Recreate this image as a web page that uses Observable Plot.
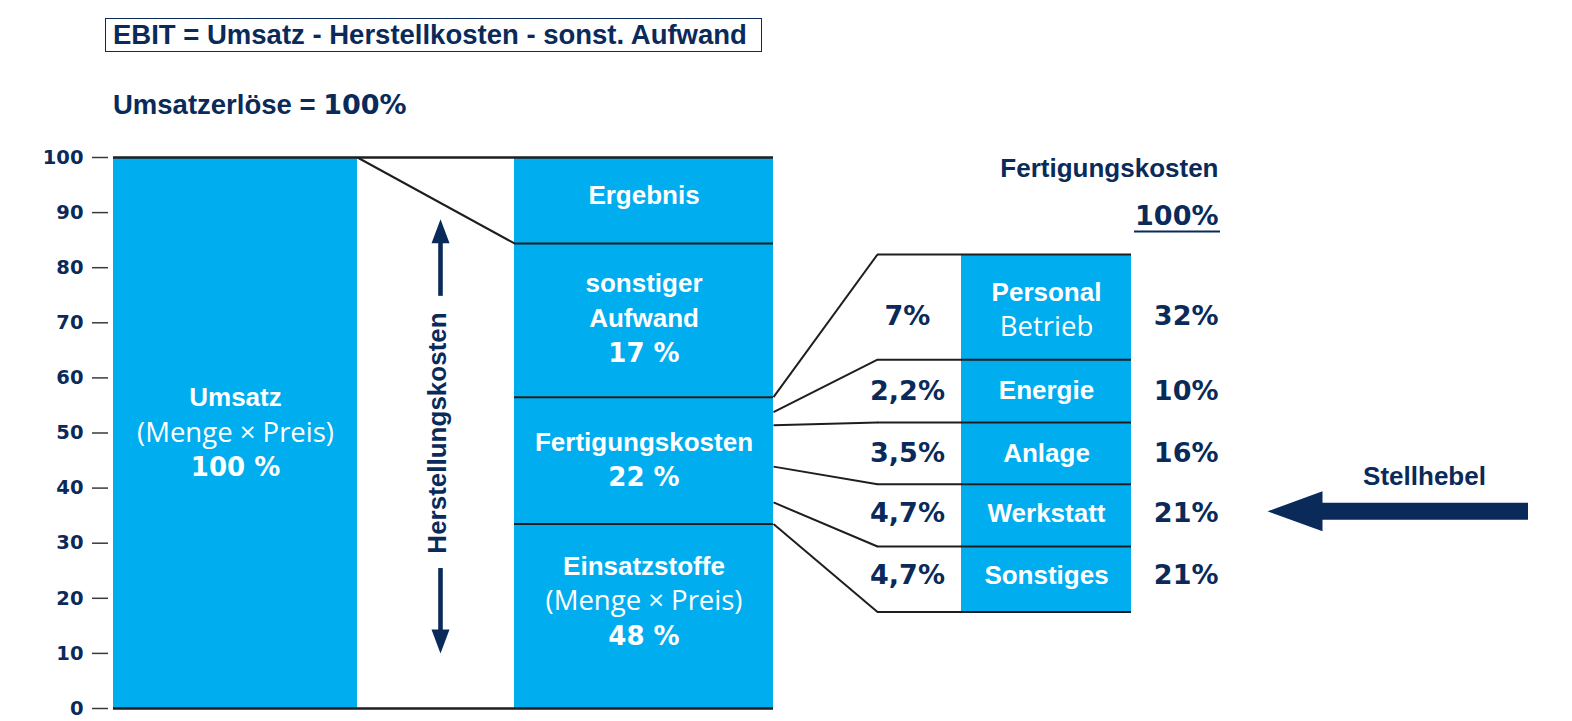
<!DOCTYPE html>
<html>
<head>
<meta charset="utf-8">
<script src="https://cdn.jsdelivr.net/npm/d3@7"></script>
<script src="https://cdn.jsdelivr.net/npm/@observablehq/plot@0.6"></script>
<style>
  html, body { margin: 0; padding: 0; background: #ffffff; }
  #header { position: relative; width: 1572px; height: 140px; }
  #title {
    position: absolute; left: 105px; top: 18px; width: 657px; height: 34px;
    box-sizing: border-box; border: 1.2px solid #0a2a5a;
  }
  #title span {
    position: absolute; left: 7px; top: 2px; white-space: nowrap;
    font: 700 27.5px/1 "Liberation Sans", Arial, sans-serif; color: #0a2a5a;
  }
  #subtitle {
    position: absolute; left: 113px; top: 91px; white-space: nowrap;
    font: 700 27.5px/1 "Liberation Sans", Arial, sans-serif; color: #0a2a5a;
  }
  #subtitle .pct { font-family: "DejaVu Sans"; font-size: 27px; }
  #chart svg { display: block; }
</style>
</head>
<body>
<div id="header">
  <div id="title"><span>EBIT = Umsatz - Herstellkosten - sonst. Aufwand</span></div>
  <div id="subtitle">Umsatzerlöse = <span class="pct">100%</span></div>
</div>
<div id="chart"></div>
<script>
// ---------------- data ----------------
const yTicks = [0, 10, 20, 30, 40, 50, 60, 70, 80, 90, 100];

const umsatzValue = 100;
const umsatzLabel = ["Umsatz", "(Menge × Preis)", "100 %"];

// Herstellungskosten column, bottom to top
const herstSegments = ["Einsatzstoffe", "Fertigungskosten", "sonstiger Aufwand", "Ergebnis"];
const herstBounds = [0, 33.5, 56.5, 84.4, 100];
const herstLabels = [
  ["Einsatzstoffe", "(Menge × Preis)", "48 %"],
  ["Fertigungskosten", "22 %"],
  ["sonstiger", "Aufwand", "17 %"],
  ["Ergebnis"]
];
const herstTitle = "Herstellungskosten";

// Fertigungskosten breakdown, top to bottom
const fertSegments = ["Personal", "Energie", "Anlage", "Werkstatt", "Sonstiges"];
const fertBounds = [82.4, 63.3, 51.9, 40.7, 29.4, 17.5];
const fertLabels = [["Personal", "Betrieb"], ["Energie"], ["Anlage"], ["Werkstatt"], ["Sonstiges"]];
const fertShareTotal = ["7%", "2,2%", "3,5%", "4,7%", "4,7%"];
const fertShareOwn = ["32%", "10%", "16%", "21%", "21%"];
const fertHeading = ["Fertigungskosten", "100%"];
// where each connector leaves the Fertigungskosten segment
const connectorStarts = [56.5, 53.8, 51.4, 43.9, 37.4, 33.5];

const leverLabel = "Stellhebel";
const leverRow = "Werkstatt";

// ---------------- layout & style (not data) ----------------
const L = {
  umsatz: {x1: 113, x2: 357},
  herst: {x1: 514, x2: 773},
  connectorX: 877,
  fert: {x1: 961, x2: 1131},
  shareX: 907,
  ownShareX: 1218,
  herstArrow: {x: 440, upFrom: 74.8, upShaft: 86.5, upTip: 88.8, downFrom: 25.4, downShaft: 12.3, downTip: 10.0},
  lever: {tipX: 1267, shaftFrom: 1310, tailX: 1528, textX: 1424, dy: -4, textDy: -39},
  lineGap: 35,
  herstExtraDy: [-15, 0, -2, -5],
  fertLabelDy: [3, 0, 0, -2, -4],
  fertPctDy: [9, 0, 0, -2, -4]
};
const NAVY = "#0a2a5a";
const CYAN = "#00adef";
const LINE = "#1e1e1e";
const fonts = {
  bold: {fontFamily: "Liberation Sans", fontWeight: 700, fontSize: 26},
  light: {fontFamily: "Open Sans", fontWeight: 400, fontSize: 27.5},
  pct: {fontFamily: "DejaVu Sans", fontWeight: 700, fontSize: 26},
  pctL: {fontFamily: "DejaVu Sans", fontWeight: 700, fontSize: 27}
};
const lightLines = new Set(["(Menge × Preis)", "Betrieb"]);
const kindOf = (t) => /%/.test(t) ? "pct" : lightLines.has(t) ? "light" : "bold";

// ---------------- derived tables ----------------
const herstData = herstSegments.map((name, i) => ({name, y1: herstBounds[i], y2: herstBounds[i + 1]}));
const fertData = fertSegments.map((name, i) => ({name, y1: fertBounds[i + 1], y2: fertBounds[i]}));
const connectors = connectorStarts.map((s, i) => ({s, e: fertBounds[i]}));

const rows = [];
function addLabel(lines, x, mid, extra, fill, anchor = "middle", kindOverride) {
  lines.forEach((t, i) => rows.push({
    x, y: mid, t, fill, anchor,
    dy: extra + (i - (lines.length - 1) / 2) * L.lineGap,
    kind: kindOverride || kindOf(t)
  }));
}
addLabel(umsatzLabel, (L.umsatz.x1 + L.umsatz.x2) / 2, umsatzValue / 2, 0, "white");
herstData.forEach((d, i) => addLabel(herstLabels[i], (L.herst.x1 + L.herst.x2) / 2, (d.y1 + d.y2) / 2, L.herstExtraDy[i], "white"));
fertData.forEach((d, i) => {
  const mid = (d.y1 + d.y2) / 2;
  addLabel(fertLabels[i], (L.fert.x1 + L.fert.x2) / 2, mid, L.fertLabelDy[i], "white");
  addLabel([fertShareTotal[i]], L.shareX, mid, L.fertPctDy[i], NAVY, "middle", "pctL");
  addLabel([fertShareOwn[i]], L.ownShareX, mid, L.fertPctDy[i], NAVY, "end", "pctL");
});
// heading over the breakdown
rows.push({x: L.ownShareX, y: 100, t: fertHeading[0], fill: NAVY, anchor: "end", dy: 11, kind: "bold"});
rows.push({x: L.ownShareX, y: 100, t: fertHeading[1], fill: NAVY, anchor: "end", dy: 59, kind: "pctL"});

const leverIdx = fertSegments.indexOf(leverRow);
const leverY = (fertData[leverIdx].y1 + fertData[leverIdx].y2) / 2;
rows.push({x: L.lever.textX, y: leverY, t: leverLabel, fill: NAVY, anchor: "middle", dy: L.lever.textDy, kind: "bold"});

const triangleHead = (halfWidth) => ({
  draw(ctx, l) {
    ctx.moveTo(0, -l);
    ctx.lineTo(halfWidth, 0);
    ctx.lineTo(-halfWidth, 0);
    ctx.closePath();
  }
});

const lineStyle = {stroke: LINE, strokeWidth: 2};

const chart = Plot.plot({
  width: 1572,
  height: 581,
  marginTop: 17,
  marginBottom: 13,
  marginLeft: 108,
  marginRight: 0,
  x: {type: "linear", domain: [108, 1572], axis: null},
  y: {domain: [0, 100], axis: null},
  style: {fontFamily: "Liberation Sans", background: "white", overflow: "visible"},
  marks: [
    // bars
    Plot.rect([umsatzValue], {x1: L.umsatz.x1, x2: L.umsatz.x2, y1: 0, y2: d => d, fill: CYAN}),
    Plot.rect(herstData, {x1: L.herst.x1, x2: L.herst.x2, y1: "y1", y2: "y2", fill: CYAN}),
    Plot.rect(fertData, {x1: L.fert.x1, x2: L.fert.x2, y1: "y1", y2: "y2", fill: CYAN}),
    // y axis
    Plot.axisY({
      ticks: yTicks, tickSize: 16, tickPadding: 9, anchor: "left",
      stroke: "#3a3a3a", strokeWidth: 1.5, fill: NAVY,
      fontFamily: "DejaVu Sans", fontWeight: 700, fontSize: 19.5,
      tickFormat: d => String(d), label: null
    }),
    // outline lines
    Plot.ruleY([0, umsatzValue], {x1: L.umsatz.x1, x2: L.herst.x2, ...lineStyle, strokeWidth: 2.4}),
    Plot.ruleY(herstBounds.slice(1, -1), {x1: L.herst.x1, x2: L.herst.x2, ...lineStyle}),
    Plot.link([{a: umsatzValue, b: herstBounds[3]}], {x1: L.umsatz.x2, y1: "a", x2: L.herst.x1, y2: "b", ...lineStyle}),
    Plot.link(connectors, {x1: L.herst.x2, y1: "s", x2: L.connectorX, y2: "e", ...lineStyle}),
    Plot.ruleY(fertBounds, {x1: L.connectorX, x2: L.fert.x2, ...lineStyle}),
    // underline under 100 %
    Plot.ruleY([100], {x1: 1134, x2: L.ownShareX + 2, dy: 74, stroke: NAVY, strokeWidth: 2}),
    // Herstellungskosten arrows
    Plot.ruleX([L.herstArrow.x], {y1: L.herstArrow.upFrom, y2: L.herstArrow.upShaft, stroke: NAVY, strokeWidth: 4.6}),
    Plot.ruleX([L.herstArrow.x], {y1: L.herstArrow.downFrom, y2: L.herstArrow.downShaft, stroke: NAVY, strokeWidth: 4.6}),
    Plot.vector([L.herstArrow.upTip], {x: L.herstArrow.x, y: d => d, rotate: 0, length: 24, anchor: "end", shape: triangleHead(9), fill: NAVY, stroke: "none"}),
    Plot.vector([L.herstArrow.downTip], {x: L.herstArrow.x, y: d => d, rotate: 180, length: 24, anchor: "end", shape: triangleHead(9), fill: NAVY, stroke: "none"}),
    Plot.text([herstTitle], {x: L.herstArrow.x - 3, y: umsatzValue / 2, text: d => d, rotate: -90, fill: NAVY, ...fonts.bold}),
    // Stellhebel arrow
    Plot.ruleY([leverY], {x1: L.lever.shaftFrom, x2: L.lever.tailX, dy: L.lever.dy, stroke: NAVY, strokeWidth: 17}),
    Plot.vector([leverY], {x: L.lever.tipX, y: d => d, dy: L.lever.dy, rotate: -90, length: 55, anchor: "end", shape: triangleHead(20), fill: NAVY, stroke: "none"}),
    // labels
    ...rows.map(r => Plot.text([r], {x: "x", y: "y", text: "t", dy: r.dy, fill: r.fill, textAnchor: r.anchor, ...fonts[r.kind]}))
  ]
});
document.getElementById("chart").appendChild(chart);
</script>
</body>
</html>
